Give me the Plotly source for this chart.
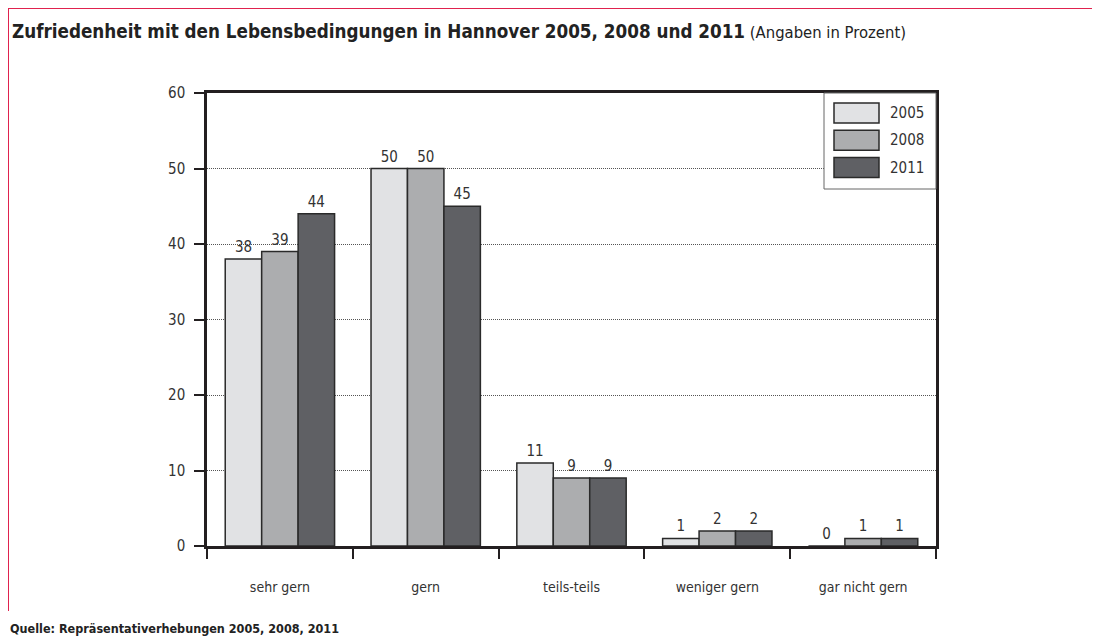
import plotly.graph_objects as go

categories = ["sehr gern", "gern", "teils-teils", "weniger gern", "gar nicht gern"]
years = ["2005", "2008", "2011"]
values_2005 = [38, 50, 11, 1, 0]
values_2008 = [39, 50, 9, 2, 1]
values_2011 = [44, 45, 9, 2, 1]
colors = ["#e1e2e4", "#acadaf", "#5f6064"]
y_ticks = [0, 10, 20, 30, 40, 50, 60]

# page body has an 8px margin; work in screen pixels and subtract it
OFF = 8
W, H = 1100 - OFF, 639 - OFF
L, R, T, B = 207 - OFF, 936 - OFF, 93 - OFF, 546 - OFF

series = [values_2005, values_2008, values_2011]
TXT = "'DejaVu Sans Condensed', 'DejaVu Sans', sans-serif"
NARROW = "'DejaVu Sans Condensed', 'Liberation Sans Narrow', sans-serif"

fig = go.Figure()
for name, vals, col in zip(years, series, colors):
    fig.add_trace(go.Bar(
        x=categories, y=vals, name=name,
        marker=dict(color=col, line=dict(color="#2a2a2a", width=1.5)),
        text=[str(v) for v in vals], textposition="outside", cliponaxis=False,
        textfont=dict(family=TXT, size=15, color="#333"),
        showlegend=False,
    ))

def px_x(px):
    return (px - OFF - L) / (R - L)

def px_y(py):
    return (B - (py - OFF)) / (B - T)

shapes = []
annotations = []
# legend box
shapes.append(dict(type="rect", xref="paper", yref="paper",
                   x0=px_x(824), x1=px_x(936), y0=px_y(189), y1=px_y(93),
                   fillcolor="white", line=dict(color="#666", width=1), layer="above"))
for i, (name, col) in enumerate(zip(years, colors)):
    top = 103 + i * 27.3
    shapes.append(dict(type="rect", xref="paper", yref="paper",
                       x0=px_x(834), x1=px_x(879), y0=px_y(top + 20), y1=px_y(top),
                       fillcolor=col, line=dict(color="#2a2a2a", width=1.5), layer="above"))
    annotations.append(dict(xref="paper", yref="paper", x=px_x(888), y=px_y(top + 10),
                            text=name, showarrow=False, xanchor="left", yanchor="middle",
                            font=dict(family=TXT, size=15, color="#333")))
# red frame
shapes.append(dict(type="line", xref="paper", yref="paper",
                   x0=px_x(8), x1=px_x(1100), y0=px_y(8), y1=px_y(8),
                   line=dict(color="#e0224e", width=2)))
shapes.append(dict(type="line", xref="paper", yref="paper",
                   x0=px_x(8), x1=px_x(8), y0=px_y(8), y1=px_y(611),
                   line=dict(color="#e0224e", width=2)))
# title
annotations.append(dict(xref="paper", yref="paper", x=px_x(10), y=px_y(32),
                        xanchor="left", yanchor="middle", showarrow=False,
                        text="<b>Zufriedenheit mit den Lebensbedingungen in Hannover 2005, 2008 und 2011</b>"
                             "<span style='font-size:16.5px'> (Angaben in Prozent)</span>",
                        font=dict(family=NARROW, size=18.7, color="#222")))
# source
annotations.append(dict(xref="paper", yref="paper", x=px_x(8), y=px_y(628),
                        xanchor="left", yanchor="middle", showarrow=False,
                        text="<b>Quelle: Repräsentativerhebungen 2005, 2008, 2011</b>",
                        font=dict(family=NARROW, size=12.5, color="#222")))

fig.update_layout(
    width=W, height=H,
    margin=dict(l=L, r=W - R, t=T, b=H - B, autoexpand=False),
    paper_bgcolor="white", plot_bgcolor="white",
    barmode="group", bargap=0.25, bargroupgap=0,
    shapes=shapes, annotations=annotations,
    font=dict(family=TXT, color="#333"),
)
fig.update_xaxes(
    type="category", tickson="boundaries", ticks="outside", ticklen=10, tickwidth=2,
    tickcolor="#231f20", showline=True, linecolor="#231f20", linewidth=2.5, mirror=True,
    showgrid=False, tickfont=dict(family=TXT, size=14, color="#333"), ticklabelstandoff=26,
)
fig.update_yaxes(
    range=[0, 60], tickvals=y_ticks, ticks="outside", ticklen=10, tickwidth=2,
    tickcolor="#231f20", showline=True, linecolor="#231f20", linewidth=2.5, mirror=True,
    showgrid=True, gridcolor="#555", griddash="1px,1px", gridwidth=1, zeroline=False,
    tickfont=dict(family=TXT, size=15, color="#333"), ticklabelstandoff=6,
)

fig.write_html("out.html")
